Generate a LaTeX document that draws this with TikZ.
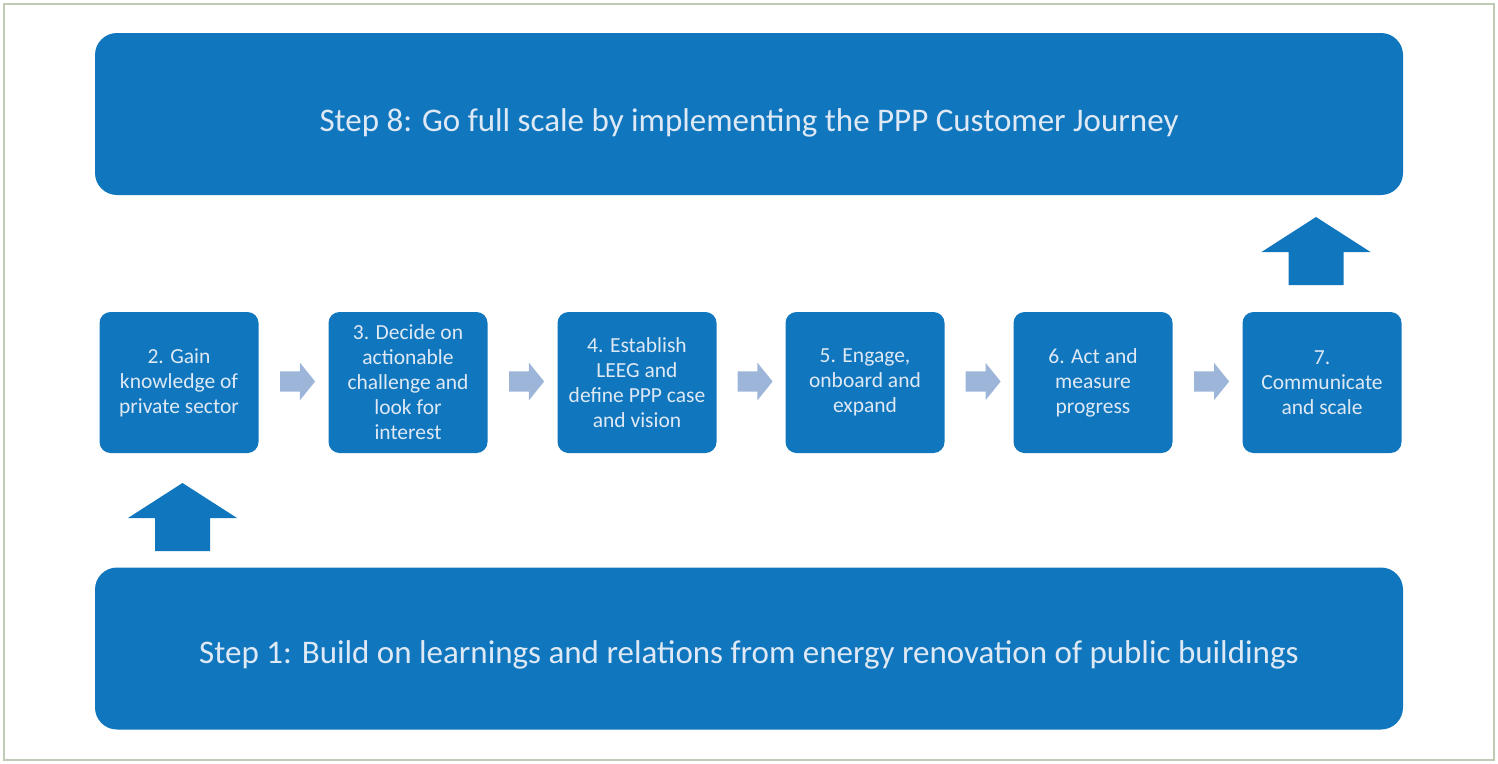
\documentclass[tikz,border=0pt]{standalone}
\usepackage{fontspec}
\setmainfont{Carlito}
\usetikzlibrary{shapes.arrows,calc}
\definecolor{boxblue}{RGB}{16,118,189}
\definecolor{arrowgray}{RGB}{157,181,216}
\definecolor{paletext}{RGB}{222,233,245}
\definecolor{frameline}{RGB}{192,203,182}

\begin{document}
\begin{tikzpicture}[x=1pt,y=-1pt,
  bigbox/.style={fill=boxblue,rounded corners=22pt,minimum width=1308pt,minimum height=162pt,text=paletext,font=\fontsize{33}{38}\selectfont},
  stepbox/.style={fill=boxblue,rounded corners=11pt,minimum width=159pt,minimum height=141pt,text=paletext,align=center,font=\fontsize{21.5}{25}\selectfont},
  smallarr/.style={single arrow,fill=arrowgray,inner xsep=0pt,inner ysep=10pt,minimum height=35pt,single arrow head extend=8.5pt,single arrow tip angle=102},
  uparr/.style={fill=boxblue}]
\useasboundingbox (0,0) rectangle (1498,763);
% FRAME
\draw [frameline,line width=2pt] (4,4) rectangle (1494,760);
% BIG STEPS
\node [bigbox] (top) at (749,114) {\raisebox{-17pt}[0pt][0pt]{Step 8: Go full scale by implementing the PPP Customer Journey}};
\node [bigbox] (bottom) at (749,648.5) {\raisebox{-15pt}[0pt][0pt]{Step 1: Build on learnings and relations from energy renovation of public buildings}};
% SMALL STEPS
\node [stepbox] (s2) at (179,382.5) {2. Gain\\knowledge of\\private sector};
\node [stepbox] (s3) at (408,382.5) {3. Decide on\\actionable\\challenge and\\look for\\interest};
\node [stepbox] (s4) at (637,382.5) {4. Establish\\LEEG and\\define PPP case\\and vision};
\node [stepbox] (s5) at (865,382.5) {5. Engage,\\onboard and\\expand};
\node [stepbox] (s6) at (1093,382.5) {6. Act and\\measure\\progress};
\node [stepbox] (s7) at (1322,382.5) {7.\\Communicate\\and scale};
% SMALL ARROWS
\node [smallarr] (a23) at ($(s2.east)!0.5!(s3.west)+(0,-1)$) {};
\node [smallarr] (a34) at ($(s3.east)!0.5!(s4.west)+(0,-1)$) {};
\node [smallarr] (a45) at ($(s4.east)!0.5!(s5.west)+(0,-1)$) {};
\node [smallarr] (a56) at ($(s5.east)!0.5!(s6.west)+(0,-1)$) {};
\node [smallarr] (a67) at ($(s6.east)!0.5!(s7.west)+(0,-1)$) {};
% UP ARROWS
\coordinate (up1) at (182.5,551);
\coordinate (up7) at (1316,285);
\fill [uparr] (up1) ++(-27.5,0) -- ++(0,-33) -- ++(-27,0) -- ++(54.5,-35) -- ++(54.5,35) -- ++(-27,0) -- ++(0,33) -- cycle;
\fill [uparr] (up7) ++(-27.5,0) -- ++(0,-33) -- ++(-27,0) -- ++(54.5,-35) -- ++(54.5,35) -- ++(-27,0) -- ++(0,33) -- cycle;
\end{tikzpicture}
\end{document}
